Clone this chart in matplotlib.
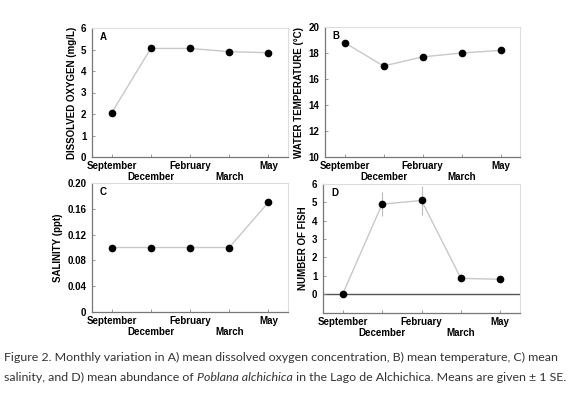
import matplotlib
matplotlib.use("Agg")
import matplotlib.pyplot as plt

# Monthly means for Lago de Alchichica
months = ["September", "December", "February", "March", "May"]
x = [1, 2, 3, 4, 5]
oxygen = [2.05, 5.05, 5.05, 4.9, 4.85]          # mg/L
temperature = [18.8, 17.0, 17.7, 18.0, 18.2]     # deg C
salinity = [0.10, 0.10, 0.10, 0.10, 0.17]        # ppt
fish = [0.0, 4.9, 5.1, 0.85, 0.8]
fish_sd = [0.0, 0.65, 0.8, 0.15, 0.12]

plt.rcParams['font.family'] = ['Liberation Sans', 'DejaVu Sans']
plt.rcParams['font.weight'] = 'bold'

W, H = 579, 395
fig = plt.figure(figsize=(W / 100, H / 100), dpi=100)


def px_axes(left, top, right, bottom):
    return fig.add_axes([left / W, 1 - bottom / H, (right - left) / W, (bottom - top) / H])


def style(ax, letter, ylabel):
    ax.set_xlim(0.5, 5.5)
    ax.set_xticks(x)
    ax.set_xticklabels(months, fontsize=7, fontweight='bold')
    ax.set_ylabel(ylabel, fontsize=7, fontweight='bold', labelpad=3)
    ax.tick_params(labelsize=7, length=2, width=0.6, color='#888888', direction='in')
    ax.tick_params(axis='x', pad=3)
    ax.tick_params(axis='y', pad=4)
    # stagger every second month label one line down
    for i, tk in enumerate(ax.xaxis.get_major_ticks()):
        if i % 2 == 1:
            tk.set_pad(10.5)
    for s in ['left', 'bottom']:
        ax.spines[s].set_color('#777777')
        ax.spines[s].set_linewidth(0.9)
    for s in ['top', 'right']:
        ax.spines[s].set_color('#dddddd')
        ax.spines[s].set_linewidth(0.8)
    ax.text(0.04, 0.93, letter, transform=ax.transAxes, fontsize=7,
            fontweight='bold', va='center', ha='left')


line_kw = dict(color='#c8c8c8', lw=1.0, marker='o', ms=4.5,
               mfc='black', mec='black', zorder=3)

# A) dissolved oxygen
axA = px_axes(92, 28, 288, 157)
axA.plot(x, oxygen, **line_kw)
axA.set_ylim(0, 6)
axA.set_yticks(range(0, 7))
style(axA, 'A', 'DISSOLVED OXYGEN (mg/L)')

# B) temperature
axB = px_axes(325, 27, 520, 157)
axB.plot(x, temperature, **line_kw)
axB.set_ylim(10, 20)
axB.set_yticks(range(10, 21, 2))
style(axB, 'B', 'WATER TEMPERATURE (°C)')

# C) salinity
axC = px_axes(92, 183, 288, 312)
axC.plot(x, salinity, **line_kw)
axC.set_ylim(0, 0.20)
axC.set_yticks([0, 0.04, 0.08, 0.12, 0.16, 0.20])
axC.set_yticklabels(['0', '0.04', '0.08', '0.12', '0.16', '0.20'])
style(axC, 'C', 'SALINITY (ppt)')

# D) fish abundance
axD = px_axes(323, 184, 520, 313)
axD.axhline(0, color='#555555', lw=1.0, zorder=1)
axD.errorbar(x, fish, yerr=fish_sd, ecolor='#bbbbbb', elinewidth=0.8,
             capsize=0, **line_kw)
axD.set_ylim(-1.04, 6)
axD.set_yticks(range(0, 7))
style(axD, 'D', 'NUMBER OF FISH')

# caption
cap_kw = dict(fontsize=8.95, fontweight='normal', color='#333333', va='baseline',
              family=['Lato', 'DejaVu Sans'])
fig.text(4 / W, 1 - 361 / H,
         "Figure 2. Monthly variation in A) mean dissolved oxygen concentration, "
         "B) mean temperature, C) mean", **cap_kw)
r = fig.canvas.get_renderer()
y2 = 1 - 381 / H
t1 = fig.text(4 / W, y2, "salinity, and D) mean abundance of ", **cap_kw)
bb = t1.get_window_extent(r)
t2 = fig.text(bb.x1 / W, y2, "Poblana alchichica", style='italic', **cap_kw)
bb = t2.get_window_extent(r)
fig.text(bb.x1 / W, y2, " in the Lago de Alchichica. Means are given ± 1 SE.", **cap_kw)

fig.savefig("out.png", dpi=100)
